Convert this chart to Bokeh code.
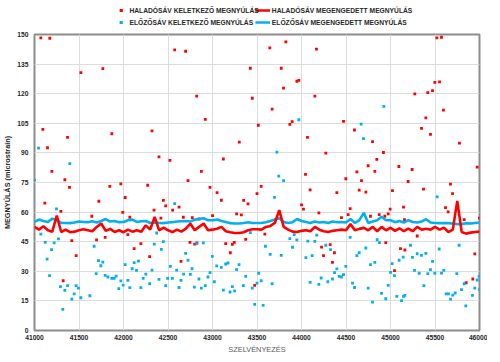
from bokeh.plotting import figure
from bokeh.layouts import column
from bokeh.models import FixedTicker, Range1d
from bokeh.core.properties import value
from bokeh.embed import file_html
from bokeh.resources import INLINE

# ---- data ----
x_ticks = [41000, 41500, 42000, 42500, 43000, 43500, 44000, 44500, 45000, 45500, 46000]
y_ticks = [0, 15, 30, 45, 60, 75, 90, 105, 120, 135, 150]

series_names = ["HALADÓSÁV KELETKEZŐ MEGNYÚLÁS", "ELŐZŐSÁV KELETKEZŐ MEGNYÚLÁS",
                "HALADÓSÁV MEGENGEDETT MEGNYÚLÁS", "ELŐZŐSÁV MEGENGEDETT MEGNYÚLÁS"]

line_x = [41000, 41050, 41100, 41150, 41200, 41250, 41300, 41350, 41400, 41450,
          41500, 41550, 41600, 41650, 41700, 41750, 41800, 41850, 41900, 41950,
          42000, 42050, 42100, 42150, 42200, 42250, 42300, 42350, 42400, 42450,
          42500, 42550, 42600, 42650, 42700, 42750, 42800, 42850, 42900, 42950,
          43000, 43050, 43100, 43150, 43200, 43250, 43300, 43350, 43400, 43450,
          43500, 43550, 43600, 43650, 43700, 43750, 43800, 43850, 43900, 43950,
          44000, 44050, 44100, 44150, 44200, 44250, 44300, 44350, 44400, 44450,
          44500, 44550, 44600, 44650, 44700, 44750, 44800, 44850, 44900, 44950,
          45000, 45050, 45100, 45150, 45200, 45250, 45300, 45350, 45400, 45450,
          45500, 45550, 45600, 45650, 45700, 45750, 45800, 45850, 45900, 45950,
          46000]

blue_line = [55.0, 56.2, 55.5, 55.0, 56.7, 55.9, 54.5, 54.5, 54.4, 54.7,
             55.2, 55.0, 54.9, 55.4, 54.7, 55.5, 56.5, 55.2, 55.5, 54.9,
             55.0, 55.9, 56.2, 55.0, 55.4, 55.5, 54.5, 54.7, 54.5, 54.4,
             54.7, 54.9, 55.2, 55.4, 55.5, 55.2, 56.2, 56.5, 56.9, 55.9,
             55.9, 56.2, 55.5, 55.0, 54.4, 54.2, 54.2, 54.5, 54.9, 54.5,
             54.5, 54.5, 54.9, 55.5, 56.2, 56.9, 55.0, 54.5, 54.9, 56.5,
             55.5, 55.0, 54.5, 55.2, 54.7, 55.0, 54.5, 55.2, 54.9, 55.0,
             54.7, 56.5, 54.5, 55.9, 59.6, 54.5, 55.2, 55.9, 57.6, 55.9,
             55.9, 54.9, 55.5, 54.7, 55.9, 55.0, 54.7, 55.2, 56.4, 54.7,
             54.5, 54.4, 54.5, 54.4, 54.2, 53.9, 53.9, 54.4, 54.2, 54.5,
             54.7]

red_line = [52.5, 51.1, 52.8, 50.8, 50.1, 58.2, 49.9, 51.1, 49.8, 50.1,
            50.8, 51.3, 50.8, 50.3, 52.5, 54.2, 50.5, 51.5, 49.9, 50.8,
            49.8, 51.1, 50.1, 50.8, 50.1, 53.3, 51.1, 57.6, 50.8, 52.1,
            50.8, 49.9, 51.1, 50.1, 51.6, 54.2, 50.8, 52.5, 54.2, 50.8,
            51.1, 51.6, 52.5, 50.3, 49.8, 49.4, 49.4, 49.8, 50.8, 51.3,
            51.3, 51.1, 52.5, 53.0, 54.5, 61.0, 52.5, 51.1, 50.1, 49.9,
            50.5, 50.8, 50.3, 52.5, 51.1, 50.3, 49.9, 50.5, 50.8, 51.1,
            50.8, 53.9, 50.8, 51.5, 52.0, 50.8, 52.5, 50.3, 52.5, 50.8,
            52.1, 50.5, 51.8, 50.3, 51.6, 50.3, 52.5, 51.1, 51.6, 51.1,
            52.5, 51.1, 52.1, 49.9, 51.1, 65.7, 49.9, 49.1, 49.6, 49.9,
            50.1]

red_pts_x = [41071, 41172, 41521, 41768, 41094, 41371, 41146, 41869, 41195, 41341,
             41393, 41846, 41970, 42272, 41116, 41296, 41723, 42019, 41992, 41644,
             42071, 41419, 41697, 41794, 42049, 42195, 42120, 41468, 41322,
             42575, 42698, 42822, 42919, 42320, 42399, 42522, 42875, 42725, 42972,
             43051, 43099, 43122, 43301, 43425, 43447, 43515, 43500, 43350, 43399,
             42448, 42474, 42624, 42552, 42343, 42420, 42672, 42773, 42849, 43000,
             43271, 43324, 42747, 42800, 42826, 43148, 43223, 43245, 43373, 43200,
             42294, 42646, 43474,
             43644, 43824, 44168, 43772, 43948, 43970, 43798, 44150, 43670, 43869,
             43895, 44472, 44595, 44067, 44273, 44749, 44622, 44045, 44498, 44674,
             43547, 44097, 44397, 44648, 44723, 44000, 44022, 44195, 44547, 44524,
             44449, 44775, 43588, 44225, 44322, 44247, 44370, 44348,
             45521, 45573, 45498, 45551, 45419, 45472, 45273, 45595, 45397, 45348,
             45449, 44798, 45775, 44921, 44846, 44824, 45094, 45243, 45974, 45198,
             45674, 45371, 45022, 45697, 45618, 45648, 45146, 44996, 44974, 44873,
             44936, 45157, 45828, 46000, 44947, 45300, 45112, 45161, 45947, 45045,
             45925, 45850]
red_pts_y = [148.3, 148.1, 130.7, 132.7, 101.9, 97.9, 92.6, 99.7, 80.6, 76.4,
             72.5, 73.0, 74.3, 73.6, 64.5, 60.4, 65.5, 67.4, 59.9, 57.9,
             57.4, 45.5, 45.9, 47.2, 48.6, 44.0, 41.5, 37.9, 25.2,
             142.2, 141.5, 118.8, 107.0, 101.2, 88.0, 86.2, 80.6, 76.0, 72.5,
             69.9, 66.0, 86.9, 95.5, 132.9, 117.7, 104.0, 69.4, 65.9, 64.2,
             65.9, 63.2, 62.5, 61.0, 61.0, 56.9, 57.4, 57.2, 56.5, 58.2,
             59.1, 58.6, 44.7, 43.8, 44.4, 44.0, 43.7, 44.7, 46.2, 39.4,
             37.4, 35.0, 22.9,
             143.2, 146.3, 142.6, 132.9, 126.3, 126.8, 122.8, 118.8, 112.2, 104.5,
             105.8, 106.0, 101.6, 97.9, 89.9, 83.5, 80.4, 79.1, 76.9, 76.0,
             73.0, 71.3, 69.9, 71.1, 70.1, 63.7, 61.5, 59.6, 61.8, 58.7,
             57.2, 57.9, 48.8, 42.3, 43.5, 37.9, 39.4, 34.5,
             148.3, 148.6, 125.7, 126.0, 120.5, 121.6, 119.9, 111.7, 107.7, 102.4,
             99.4, 95.7, 95.0, 90.2, 86.7, 80.6, 83.1, 81.6, 82.8, 75.5,
             74.2, 71.6, 70.9, 69.4, 62.3, 60.1, 62.5, 61.5, 59.1, 58.7,
             57.9, 56.2, 56.2, 56.9, 44.5, 47.9, 41.5, 40.8, 38.8, 30.3,
             26.1, 24.2]

blue_pts_x = [41000, 41045, 41397, 41247, 41071, 41120, 41221, 41270, 41191, 41142,
              41169, 41670, 41719, 41768, 41745, 41693, 41794, 41824, 41869, 41895,
              41917, 41970, 41996, 42049, 41947, 42071, 42019, 42097, 42146, 42120,
              42168, 42221, 42251, 42195, 41292, 41371, 41341, 41468, 41494, 41446,
              41419, 41521, 41622, 41318,
              42575, 42373, 42346, 42448, 42425, 42698, 42725, 42822, 42897, 42998,
              42770, 42526, 42597, 42320, 42294, 42399, 42496, 42549, 42474, 42624,
              42646, 42676, 42751, 42848, 42949, 42972, 43021, 42796, 42875, 42919,
              43047, 43099, 43148, 43174, 43271, 43298, 43122, 43197, 43223, 43249,
              43346, 43373, 43447, 43500, 43519, 43474, 43425,
              43970, 44670, 44696, 43723, 43745, 43798, 43697, 43918, 43869, 43948,
              43899, 43595, 43648, 43772, 44071, 44150, 44172, 44273, 44326, 44049,
              44120, 44547, 44622, 44648, 44723, 44775, 43547, 43670, 43569, 44097,
              44195, 44221, 44296, 44348, 44371, 44397, 44423, 44449, 44472, 44498,
              44573, 44596, 44749,
              44925, 45524, 44850, 44876, 45224, 45300, 45348, 45397, 45547, 45771,
              45472, 45247, 45097, 45142, 45019, 44824, 45000, 45045, 45270, 45322,
              45419, 45449, 45498, 45573, 45599, 45745, 45996, 45974, 45828, 45798,
              45947, 46000, 44974, 45375, 45626, 45652, 45700, 45727, 45675, 45846,
              45921, 44798, 44899, 44947, 45071, 45124, 45146, 45161]
blue_pts_y = [76.2, 92.4, 84.6, 61.6, 48.8, 44.7, 44.4, 46.4, 41.0, 36.2,
              27.8, 42.7, 35.4, 34.7, 32.8, 28.8, 27.9, 27.1, 26.4, 26.4,
              27.6, 25.1, 23.0, 25.4, 21.2, 21.7, 33.4, 31.3, 30.5, 34.4,
              35.2, 26.4, 28.6, 21.7, 22.2, 22.7, 20.3, 22.7, 21.5, 18.6,
              15.9, 16.6, 17.6, 10.7,
              64.3, 49.4, 43.8, 45.0, 41.1, 39.1, 35.6, 44.0, 44.4, 37.6,
              31.3, 32.5, 30.6, 30.6, 23.7, 25.9, 26.4, 26.4, 22.7, 21.8,
              25.4, 28.6, 28.4, 26.1, 27.1, 29.3, 24.7, 22.0, 21.5, 22.7,
              32.7, 32.0, 33.7, 34.2, 30.8, 33.4, 20.5, 19.5, 22.2, 20.1,
              22.7, 27.4, 21.5, 24.0, 29.0, 13.2, 49.6,
              106.8, 104.6, 97.2, 90.4, 78.2, 76.0, 67.5, 48.6, 46.6, 45.9,
              42.2, 42.7, 38.6, 38.1, 45.3, 45.2, 48.3, 43.2, 41.0, 36.9,
              37.9, 47.2, 37.9, 39.4, 41.8, 33.4, 25.2, 23.7, 12.7, 24.4,
              23.4, 26.6, 24.7, 26.1, 29.3, 31.2, 27.4, 27.1, 28.3, 32.5,
              24.0, 21.8, 21.5,
              113.6, 67.7, 46.0, 44.5, 43.2, 38.9, 38.1, 39.1, 41.3, 43.2,
              35.0, 37.1, 35.6, 37.2, 33.9, 34.5, 29.5, 27.8, 30.5, 29.0,
              28.8, 30.8, 29.0, 29.1, 30.5, 28.8, 27.4, 25.6, 23.7, 20.7,
              21.5, 20.7, 22.9, 22.7, 18.6, 18.6, 17.9, 19.0, 15.9, 12.5,
              17.8, 14.4, 18.8, 16.1, 17.3, 15.1, 17.3, 17.8]

RED = "#ff0000"
BLUE = "#00b0f0"
FONT = "Liberation Sans"

TOTAL_W = 482
LEG_H = 26

# ---- legend strip (pixel coordinates, y downwards) ----
lf = figure(width=TOTAL_W, height=LEG_H, output_backend="svg", toolbar_location=None,
            x_range=Range1d(0, TOTAL_W), y_range=Range1d(LEG_H, 0),
            x_axis_type=None, y_axis_type=None,
            min_border=0, min_border_left=0, min_border_right=0,
            min_border_top=0, min_border_bottom=0)
lf.outline_line_color = None
lf.background_fill_color = "white"
lf.border_fill_color = "white"
row_y = [10, 22]
lf.scatter([95, 95], row_y, marker="square", size=3.2,
           fill_color=[RED, BLUE], line_color=None)
lf.segment(x0=[242, 242], y0=row_y, x1=[258, 258], y1=row_y,
           line_color=[RED, BLUE], line_width=2.6)
lf.text(x=[104, 104, 260, 260], y=row_y + row_y,
        text=[series_names[0], series_names[1], series_names[2], series_names[3]],
        text_font=value(FONT), text_font_style="bold", text_font_size="6.7px",
        text_color="#262626", text_baseline="middle", text_align="left")

# ---- main chart ----
FW, FH = 445, 296
p = figure(frame_width=FW, frame_height=FH, output_backend="svg", toolbar_location=None,
           x_range=Range1d(41000, 46000), y_range=Range1d(0, 150),
           min_border_left=29, min_border_right=8, min_border_top=8,
           min_border_bottom=28)
p.background_fill_color = "white"
p.border_fill_color = "white"
p.outline_line_color = "#8c8c8c"
p.outline_line_width = 2

p.xaxis.ticker = FixedTicker(ticks=x_ticks)
p.yaxis.ticker = FixedTicker(ticks=y_ticks)
p.xgrid.ticker = FixedTicker(ticks=x_ticks)
p.ygrid.ticker = FixedTicker(ticks=y_ticks)
for g in (p.xgrid, p.ygrid):
    g.grid_line_color = "#dcdcdc"
    g.grid_line_width = 1

for ax in (p.xaxis, p.yaxis):
    ax.axis_line_color = None
    ax.major_tick_line_color = None
    ax.minor_tick_line_color = None
    ax.major_tick_out = 0
    ax.major_tick_in = 0
    ax.minor_tick_out = 0
    ax.minor_tick_in = 0
    ax.major_label_text_font = FONT
    ax.major_label_text_font_style = "bold"
    ax.major_label_text_font_size = "6.7px"
    ax.major_label_text_color = "#262626"
    ax.axis_label_text_font = FONT

p.yaxis.major_label_standoff = 6
p.xaxis.major_label_standoff = 4
p.yaxis.axis_label = "MEGNYÚLÁS (microstrain)"
p.yaxis.axis_label_text_font_style = "bold"
p.yaxis.axis_label_text_font_size = "7.3px"
p.yaxis.axis_label_text_color = "#262626"
p.yaxis.axis_label_standoff = 2
p.xaxis.axis_label = "SZELVÉNYEZÉS"
p.xaxis.axis_label_text_font_style = "normal"
p.xaxis.axis_label_text_font_size = "7.4px"
p.xaxis.axis_label_text_color = "#595959"
p.xaxis.axis_label_standoff = 2

p.scatter(red_pts_x, red_pts_y, marker="square", size=2.8,
          fill_color=RED, line_color=None)
p.scatter(blue_pts_x, blue_pts_y, marker="square", size=2.8,
          fill_color=BLUE, line_color=None)
p.line(line_x, blue_line, line_color=BLUE, line_width=2.6)
p.line(line_x, red_line, line_color=RED, line_width=2.6)

layout = column(lf, p, spacing=0)
open("out.html", "w").write(file_html(layout, INLINE))
